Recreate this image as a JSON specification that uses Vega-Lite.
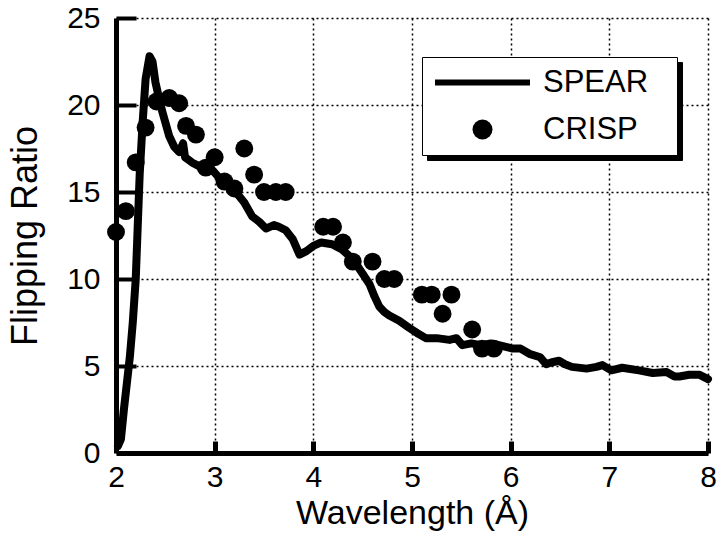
{
  "$schema": "https://vega.github.io/schema/vega-lite/v6.json",
  "width": 592,
  "height": 435,
  "autosize": {"type": "none"},
  "padding": {"left": 116, "top": 18, "right": 9, "bottom": 90},
  "background": "white",
  "config": {"view": {"stroke": null}, "font": "Liberation Sans"},
  "resolve": {"axis": {"x": "independent", "y": "independent"}},
  "datasets": {
    "spear": [
      {"wavelength": 2.02, "ratio": 0.4, "series": "SPEAR"},
      {"wavelength": 2.05, "ratio": 0.8, "series": "SPEAR"},
      {"wavelength": 2.08, "ratio": 2.5, "series": "SPEAR"},
      {"wavelength": 2.11, "ratio": 4.0, "series": "SPEAR"},
      {"wavelength": 2.14, "ratio": 5.5, "series": "SPEAR"},
      {"wavelength": 2.17, "ratio": 7.5, "series": "SPEAR"},
      {"wavelength": 2.2, "ratio": 10.0, "series": "SPEAR"},
      {"wavelength": 2.22, "ratio": 13.0, "series": "SPEAR"},
      {"wavelength": 2.24, "ratio": 16.0, "series": "SPEAR"},
      {"wavelength": 2.27, "ratio": 19.0, "series": "SPEAR"},
      {"wavelength": 2.3, "ratio": 21.5, "series": "SPEAR"},
      {"wavelength": 2.34, "ratio": 22.8, "series": "SPEAR"},
      {"wavelength": 2.37, "ratio": 22.5, "series": "SPEAR"},
      {"wavelength": 2.4, "ratio": 21.3, "series": "SPEAR"},
      {"wavelength": 2.44, "ratio": 20.3, "series": "SPEAR"},
      {"wavelength": 2.47, "ratio": 19.6, "series": "SPEAR"},
      {"wavelength": 2.5, "ratio": 19.0, "series": "SPEAR"},
      {"wavelength": 2.54, "ratio": 18.2, "series": "SPEAR"},
      {"wavelength": 2.59, "ratio": 17.6, "series": "SPEAR"},
      {"wavelength": 2.64, "ratio": 17.3, "series": "SPEAR"},
      {"wavelength": 2.68, "ratio": 17.8, "series": "SPEAR"},
      {"wavelength": 2.7, "ratio": 17.0, "series": "SPEAR"},
      {"wavelength": 2.77, "ratio": 16.7, "series": "SPEAR"},
      {"wavelength": 2.87, "ratio": 16.4, "series": "SPEAR"},
      {"wavelength": 2.97, "ratio": 16.3, "series": "SPEAR"},
      {"wavelength": 3.08, "ratio": 15.6, "series": "SPEAR"},
      {"wavelength": 3.2, "ratio": 15.1, "series": "SPEAR"},
      {"wavelength": 3.3, "ratio": 14.4, "series": "SPEAR"},
      {"wavelength": 3.38, "ratio": 13.6, "series": "SPEAR"},
      {"wavelength": 3.45, "ratio": 13.3, "series": "SPEAR"},
      {"wavelength": 3.52, "ratio": 12.9, "series": "SPEAR"},
      {"wavelength": 3.6, "ratio": 13.1, "series": "SPEAR"},
      {"wavelength": 3.65, "ratio": 13.0, "series": "SPEAR"},
      {"wavelength": 3.72, "ratio": 12.8, "series": "SPEAR"},
      {"wavelength": 3.79, "ratio": 12.3, "series": "SPEAR"},
      {"wavelength": 3.86, "ratio": 11.4, "series": "SPEAR"},
      {"wavelength": 3.93, "ratio": 11.6, "series": "SPEAR"},
      {"wavelength": 4.0, "ratio": 11.9, "series": "SPEAR"},
      {"wavelength": 4.08, "ratio": 12.1, "series": "SPEAR"},
      {"wavelength": 4.19, "ratio": 12.0, "series": "SPEAR"},
      {"wavelength": 4.29, "ratio": 11.7, "series": "SPEAR"},
      {"wavelength": 4.37, "ratio": 11.3, "series": "SPEAR"},
      {"wavelength": 4.44, "ratio": 10.8, "series": "SPEAR"},
      {"wavelength": 4.5, "ratio": 10.3, "series": "SPEAR"},
      {"wavelength": 4.57, "ratio": 9.7, "series": "SPEAR"},
      {"wavelength": 4.62, "ratio": 9.0, "series": "SPEAR"},
      {"wavelength": 4.67, "ratio": 8.4, "series": "SPEAR"},
      {"wavelength": 4.72, "ratio": 8.1, "series": "SPEAR"},
      {"wavelength": 4.77, "ratio": 7.9, "series": "SPEAR"},
      {"wavelength": 4.87, "ratio": 7.6, "series": "SPEAR"},
      {"wavelength": 4.97, "ratio": 7.2, "series": "SPEAR"},
      {"wavelength": 5.05, "ratio": 6.9, "series": "SPEAR"},
      {"wavelength": 5.14, "ratio": 6.6, "series": "SPEAR"},
      {"wavelength": 5.25, "ratio": 6.6, "series": "SPEAR"},
      {"wavelength": 5.38, "ratio": 6.5, "series": "SPEAR"},
      {"wavelength": 5.45, "ratio": 6.6, "series": "SPEAR"},
      {"wavelength": 5.51, "ratio": 6.2, "series": "SPEAR"},
      {"wavelength": 5.6, "ratio": 6.3, "series": "SPEAR"},
      {"wavelength": 5.7, "ratio": 6.2, "series": "SPEAR"},
      {"wavelength": 5.8, "ratio": 6.3, "series": "SPEAR"},
      {"wavelength": 5.88, "ratio": 6.2, "series": "SPEAR"},
      {"wavelength": 6.02, "ratio": 6.0, "series": "SPEAR"},
      {"wavelength": 6.1, "ratio": 6.0, "series": "SPEAR"},
      {"wavelength": 6.19, "ratio": 5.7, "series": "SPEAR"},
      {"wavelength": 6.3, "ratio": 5.5, "series": "SPEAR"},
      {"wavelength": 6.36, "ratio": 5.1, "series": "SPEAR"},
      {"wavelength": 6.41, "ratio": 5.2, "series": "SPEAR"},
      {"wavelength": 6.49, "ratio": 5.3, "series": "SPEAR"},
      {"wavelength": 6.55, "ratio": 5.1, "series": "SPEAR"},
      {"wavelength": 6.62, "ratio": 4.95, "series": "SPEAR"},
      {"wavelength": 6.77, "ratio": 4.85, "series": "SPEAR"},
      {"wavelength": 6.87, "ratio": 4.95, "series": "SPEAR"},
      {"wavelength": 6.93, "ratio": 5.05, "series": "SPEAR"},
      {"wavelength": 7.02, "ratio": 4.75, "series": "SPEAR"},
      {"wavelength": 7.13, "ratio": 4.9, "series": "SPEAR"},
      {"wavelength": 7.3, "ratio": 4.75, "series": "SPEAR"},
      {"wavelength": 7.44, "ratio": 4.6, "series": "SPEAR"},
      {"wavelength": 7.58, "ratio": 4.65, "series": "SPEAR"},
      {"wavelength": 7.66, "ratio": 4.4, "series": "SPEAR"},
      {"wavelength": 7.71, "ratio": 4.4, "series": "SPEAR"},
      {"wavelength": 7.81, "ratio": 4.5, "series": "SPEAR"},
      {"wavelength": 7.91, "ratio": 4.5, "series": "SPEAR"},
      {"wavelength": 8.0, "ratio": 4.25, "series": "SPEAR"}
    ],
    "crisp": [
      {"wavelength": 2.0, "ratio": 12.7, "set": "CRISP"},
      {"wavelength": 2.1, "ratio": 13.9, "set": "CRISP"},
      {"wavelength": 2.2, "ratio": 16.7, "set": "CRISP"},
      {"wavelength": 2.3, "ratio": 18.7, "set": "CRISP"},
      {"wavelength": 2.41, "ratio": 20.2, "set": "CRISP"},
      {"wavelength": 2.54, "ratio": 20.4, "set": "CRISP"},
      {"wavelength": 2.64, "ratio": 20.1, "set": "CRISP"},
      {"wavelength": 2.71, "ratio": 18.8, "set": "CRISP"},
      {"wavelength": 2.81, "ratio": 18.3, "set": "CRISP"},
      {"wavelength": 2.91, "ratio": 16.4, "set": "CRISP"},
      {"wavelength": 3.0, "ratio": 17.0, "set": "CRISP"},
      {"wavelength": 3.1, "ratio": 15.6, "set": "CRISP"},
      {"wavelength": 3.2, "ratio": 15.2, "set": "CRISP"},
      {"wavelength": 3.3, "ratio": 17.5, "set": "CRISP"},
      {"wavelength": 3.4, "ratio": 16.0, "set": "CRISP"},
      {"wavelength": 3.5, "ratio": 15.0, "set": "CRISP"},
      {"wavelength": 3.62, "ratio": 15.0, "set": "CRISP"},
      {"wavelength": 3.72, "ratio": 15.0, "set": "CRISP"},
      {"wavelength": 4.1, "ratio": 13.0, "set": "CRISP"},
      {"wavelength": 4.2, "ratio": 13.0, "set": "CRISP"},
      {"wavelength": 4.3, "ratio": 12.1, "set": "CRISP"},
      {"wavelength": 4.4, "ratio": 11.0, "set": "CRISP"},
      {"wavelength": 4.6, "ratio": 11.0, "set": "CRISP"},
      {"wavelength": 4.72, "ratio": 10.0, "set": "CRISP"},
      {"wavelength": 4.82, "ratio": 10.0, "set": "CRISP"},
      {"wavelength": 5.1, "ratio": 9.1, "set": "CRISP"},
      {"wavelength": 5.2, "ratio": 9.1, "set": "CRISP"},
      {"wavelength": 5.31, "ratio": 8.0, "set": "CRISP"},
      {"wavelength": 5.4, "ratio": 9.1, "set": "CRISP"},
      {"wavelength": 5.61, "ratio": 7.1, "set": "CRISP"},
      {"wavelength": 5.71, "ratio": 6.0, "set": "CRISP"},
      {"wavelength": 5.83, "ratio": 6.0, "set": "CRISP"}
    ]
  },
  "layer": [
    {
      "data": {"name": "spear"},
      "mark": {"type": "line", "strokeWidth": 8, "strokeJoin": "round", "strokeCap": "round"},
      "encoding": {
        "x": {
          "field": "wavelength", "type": "quantitative",
          "scale": {"domain": [2, 8], "nice": false, "zero": false},
          "axis": {
            "orient": "bottom",
            "values": [2, 3, 4, 5, 6, 7, 8], "format": "d",
            "title": "Wavelength  (Å)",
            "grid": true, "gridColor": "black", "gridDash": [2, 3], "gridWidth": 1.5, "gridOpacity": 1,
            "domainColor": "black", "domainWidth": 5, "ticks": false,
            "labelFontSize": 30, "labelColor": "black", "labelPadding": 9, "labelFlush": false,
            "titleFontSize": 34, "titleFontWeight": "normal", "titleColor": "black", "titlePadding": 4
          }
        },
        "y": {
          "field": "ratio", "type": "quantitative",
          "scale": {"domain": [0, 25], "nice": false},
          "axis": {
            "orient": "left",
            "values": [0, 5, 10, 15, 20, 25], "format": "d",
            "title": "Flipping  Ratio",
            "grid": true, "gridColor": "black", "gridDash": [2, 3], "gridWidth": 1.5, "gridOpacity": 1,
            "domainColor": "black", "domainWidth": 5, "ticks": false,
            "labelFontSize": 30, "labelColor": "black", "labelPadding": 16, "labelFlush": false,
            "titleFontSize": 36, "titleFontWeight": "normal", "titleColor": "black", "titlePadding": 22
          }
        },
        "color": {
          "field": "series", "type": "nominal",
          "scale": {"domain": ["CRISP", "SPEAR"], "range": ["black", "black"]},
          "legend": {
            "title": " ", "titleFontSize": 6, "titleOrient": "right", "titlePadding": 124,
            "orient": "none", "legendX": 311, "legendY": 44, "direction": "vertical",
            "padding": 10, "fillColor": "black", "strokeColor": "black",
            "symbolSize": 400, "symbolStrokeWidth": 6, "symbolType": "circle",
            "symbolFillColor": "black", "symbolStrokeColor": "black",
            "symbolOffset": 35, "labelOffset": 45, "rowPadding": -5,
            "labelFontSize": 31, "labelColor": "black", "labelFont": "Liberation Sans",
            "labelExpr": "''"
          }
        }
      }
    },
    {
      "data": {"name": "crisp"},
      "mark": {"type": "point", "filled": true, "color": "black", "size": 320, "opacity": 1, "strokeWidth": 0},
      "encoding": {
        "x": {
          "field": "wavelength", "type": "quantitative",
          "axis": {
            "orient": "bottom", "offset": -12,
            "values": [3, 4, 5, 6, 7, 8], "domain": false, "labels": false, "grid": false, "title": null,
            "ticks": true, "tickSize": 12, "tickWidth": 5, "tickColor": "black", "tickOpacity": 1
          }
        },
        "y": {
          "field": "ratio", "type": "quantitative",
          "axis": {
            "orient": "left", "offset": -20,
            "values": [5, 10, 15, 20, 25], "domain": false, "labels": false, "grid": false, "title": null,
            "ticks": true, "tickSize": 20, "tickWidth": 4, "tickColor": "black", "tickOpacity": 1
          }
        },
        "shape": {
          "field": "set", "type": "nominal",
          "scale": {"domain": ["SPEAR", "CRISP"], "range": ["M-4.75,-0.3H4.75V0.3H-4.75Z", "circle"]},
          "legend": {
            "title": " ", "titleFontSize": 6, "titleOrient": "right", "titlePadding": 19,
            "orient": "none", "legendX": 306, "legendY": 39, "direction": "vertical",
            "padding": 10, "fillColor": "white", "strokeColor": "black",
            "symbolSize": 400, "symbolStrokeWidth": 0,
            "symbolFillColor": "black", "symbolStrokeColor": "black",
            "symbolOffset": 35, "labelOffset": 45, "rowPadding": 15,
            "labelFontSize": 31, "labelColor": "black", "labelFont": "Liberation Sans",
            "encode": {
              "legend": {"update": {"strokeWidth": {"value": 2}}},
              "symbols": {"update": {
                "size": {"signal": "datum.value === 'CRISP' ? 283 : 400"},
                "fill": {"value": "black"},
                "opacity": {"value": 1}
              }}
            }
          }
        }
      }
    }
  ]
}
